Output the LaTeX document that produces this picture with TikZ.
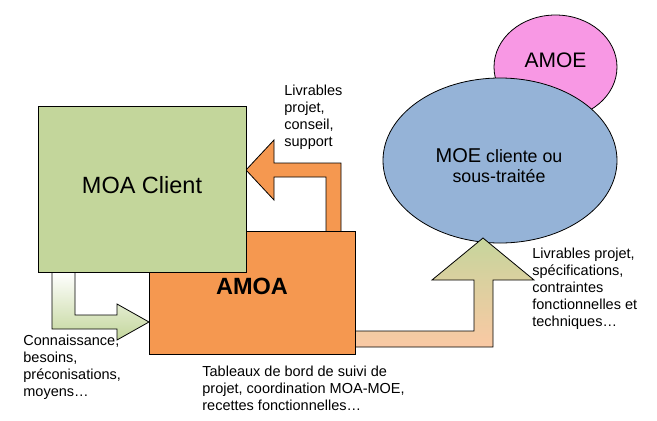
\documentclass[tikz,border=0pt]{standalone}
\usepackage{fontspec}
\setmainfont{Liberation Sans}
\usetikzlibrary{shapes.geometric}

\definecolor{moagreen}{HTML}{C3D69B}
\definecolor{amoaorange}{HTML}{F59850}
\definecolor{moeblue}{HTML}{95B3D7}
\definecolor{amoepink}{HTML}{F898E4}
\definecolor{paleorange}{HTML}{FAC9A4}
\definecolor{palegreen}{HTML}{C6D59C}

\begin{document}
\begin{tikzpicture}[x=1pt,y=-1pt,line width=0.8pt,
    boite/.style={draw,rectangle,inner sep=0pt},
    bulle/.style={draw,ellipse,inner sep=0pt},
    grand/.style={inner sep=0pt,font=\fontsize{23.5}{26}\selectfont},
    petit/.style={anchor=north west,align=left,inner sep=0pt,font=\fontsize{14.5}{16.8}\selectfont}]
        \useasboundingbox (0,0) rectangle (657,421);
        \node[bulle,fill=amoepink,minimum width=123pt,minimum height=104pt] (amoe) at (555.5,67) {};
        \node[inner sep=0pt,font=\fontsize{21}{24}\selectfont] (amoetxt) at (555.5,60) {AMOE};
        \node[bulle,fill=moeblue,minimum width=234pt,minimum height=165pt] (moe) at (500,160.5) {};
        \node[inner sep=0pt,align=center,font=\fontsize{17.8}{20}\selectfont] (moetxt) at (499,165.5)
          {{\fontsize{20}{20}\selectfont MOE} cliente ou\\sous-traitée};
        \filldraw[fill=amoaorange] (341,231) -- (341,163) -- (274,163) -- (274,140)
          -- (246,170) -- (274,200) -- (274,177) -- (326,177) -- (326,231);
        \shadedraw[top color=palegreen,bottom color=paleorange] (355,331) -- (474,331) -- (474,280)
          -- (432,280) -- (483,238) -- (534,280) -- (493,280) -- (493,347) -- (355,347);
        \shadedraw[top color=white,bottom color=moagreen] (52,272) -- (52,329) -- (117,329) -- (117,340)
          -- (149,322) -- (117,304) -- (117,315) -- (75,315) -- (75,272);
        \node[boite,fill=amoaorange,minimum width=206pt,minimum height=123pt] (amoa) at (252,292.5) {};
        \node[boite,fill=moagreen,minimum width=208pt,minimum height=166pt] (moa) at (142,189) {};
        \node[grand] (moatxt) at (142,185.5) {MOA Client};
        \node[grand,font=\fontsize{23.5}{26}\selectfont\bfseries] (amoatxt) at (252,286) {AMOA};
        \node[petit] (livtxt) at (284,85) {Livrables\\projet,\\conseil,\\support};
        \node[petit] (spectxt) at (532,248) {Livrables projet,\\spécifications,\\contraintes\\fonctionnelles et\\techniques…};
        \node[petit] (besoinstxt) at (23,335) {Connaissance,\\besoins,\\préconisations,\\moyens…};
        \node[petit] (suivitxt) at (202,366) {Tableaux de bord de suivi de\\projet, coordination MOA-MOE,\\recettes fonctionnelles…};
\end{tikzpicture}
\end{document}
